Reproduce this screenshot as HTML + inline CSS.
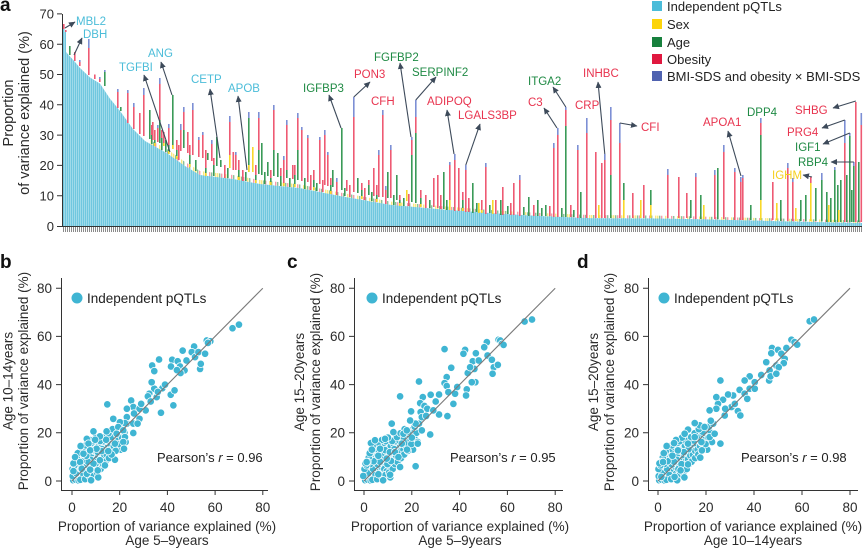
<!DOCTYPE html>
<html><head><meta charset="utf-8"><style>
html,body{margin:0;padding:0;background:#fff;}
svg{display:block;font-family:"Liberation Sans",sans-serif;}
.tk{font-size:13px;fill:#2b2b2b;}
.lb{font-size:11px;}
</style></head><body>
<svg width="865" height="549" viewBox="0 0 865 549" xmlns="http://www.w3.org/2000/svg">
<defs>
<pattern id="cy" x="63" width="2" height="10" patternUnits="userSpaceOnUse"><rect width="2" height="10" fill="#b4e3f0"/><rect width="1.3" height="10" fill="#6fc7df"/></pattern>
<pattern id="hat" x="63" width="2" height="6" patternUnits="userSpaceOnUse"><rect width="1" height="6" fill="#8a8a8a"/></pattern>
<pattern id="nz" x="63" width="22" height="10" patternUnits="userSpaceOnUse">
<rect x="0" width="1.4" height="10" fill="#f8d82a"/><rect x="2" width="1.4" height="10" fill="#3a9a58"/><rect x="4" width="1.4" height="10" fill="#ee5a73"/><rect x="8" width="1.4" height="10" fill="#f8d82a"/><rect x="10" width="1.4" height="10" fill="#3a9a58"/><rect x="14" width="1.4" height="10" fill="#ee5a73"/><rect x="16" width="1.4" height="10" fill="#3a9a58"/><rect x="20" width="1.4" height="10" fill="#f8d82a"/>
</pattern>
<marker id="ar" markerUnits="userSpaceOnUse" markerWidth="7" markerHeight="7" refX="6" refY="3.5" orient="auto"><path d="M0,0.5 L6.5,3.5 L0,6.5 z" fill="#3d4a5a"/></marker>
<g id="cl">
<circle cx="0.5" cy="0.3" r="1.55"/><circle cx="1" cy="1.5" r="1.55"/><circle cx="1.5" cy="0.5" r="1.55"/><circle cx="2" cy="2.5" r="1.55"/><circle cx="0.8" cy="3" r="1.55"/><circle cx="2.5" cy="1" r="1.55"/><circle cx="3" cy="3.5" r="1.55"/><circle cx="3.5" cy="2" r="1.55"/><circle cx="1.2" cy="4.5" r="1.55"/><circle cx="4" cy="4" r="1.55"/><circle cx="4.5" cy="1.5" r="1.55"/><circle cx="2.2" cy="5.5" r="1.55"/><circle cx="5" cy="3" r="1.55"/><circle cx="5.5" cy="5.5" r="1.55"/><circle cx="3.3" cy="6.5" r="1.55"/><circle cx="6" cy="2" r="1.55"/><circle cx="6.5" cy="4.5" r="1.55"/><circle cx="4.2" cy="7.5" r="1.55"/><circle cx="7" cy="6" r="1.55"/><circle cx="7.5" cy="3" r="1.55"/><circle cx="5.3" cy="8.5" r="1.55"/><circle cx="8" cy="7.5" r="1.55"/><circle cx="8.5" cy="5" r="1.55"/><circle cx="6.2" cy="9.5" r="1.55"/><circle cx="9" cy="8.5" r="1.55"/><circle cx="9.5" cy="4" r="1.55"/><circle cx="7.2" cy="10.5" r="1.55"/><circle cx="10" cy="9.5" r="1.55"/><circle cx="10.5" cy="6.5" r="1.55"/><circle cx="8.3" cy="11.5" r="1.55"/><circle cx="11" cy="10.5" r="1.55"/><circle cx="11.5" cy="8" r="1.55"/><circle cx="9.2" cy="12.5" r="1.55"/><circle cx="12" cy="11.5" r="1.55"/><circle cx="12.5" cy="9" r="1.55"/><circle cx="10.3" cy="13.5" r="1.55"/><circle cx="13" cy="12" r="1.55"/><circle cx="13.5" cy="10.5" r="1.55"/><circle cx="11.2" cy="14.5" r="1.55"/><circle cx="14" cy="13.5" r="1.55"/><circle cx="14.5" cy="11" r="1.55"/><circle cx="12.3" cy="15.5" r="1.55"/><circle cx="15" cy="14" r="1.55"/><circle cx="15.5" cy="12.5" r="1.55"/><circle cx="13.2" cy="16.5" r="1.55"/><circle cx="16" cy="15.5" r="1.55"/><circle cx="16.5" cy="13" r="1.55"/><circle cx="17" cy="17" r="1.55"/><circle cx="17.5" cy="14.5" r="1.55"/><circle cx="18" cy="16" r="1.55"/><circle cx="0.3" cy="2" r="1.55"/><circle cx="1.8" cy="3.2" r="1.55"/><circle cx="2.8" cy="0.2" r="1.55"/><circle cx="3.8" cy="5" r="1.55"/><circle cx="4.8" cy="2.5" r="1.55"/><circle cx="5.8" cy="6.8" r="1.55"/><circle cx="6.8" cy="1" r="1.55"/><circle cx="7.8" cy="8.8" r="1.55"/><circle cx="0.2" cy="5" r="1.55"/><circle cx="2.6" cy="7" r="1.55"/><circle cx="1" cy="6.5" r="1.55"/><circle cx="3" cy="9" r="1.55"/><circle cx="4.4" cy="10" r="1.55"/><circle cx="5" cy="11.6" r="1.55"/><circle cx="6" cy="12.8" r="1.55"/><circle cx="7" cy="14" r="1.55"/><circle cx="8" cy="15.5" r="1.55"/><circle cx="9" cy="16.5" r="1.55"/><circle cx="3.5" cy="0.5" r="1.55"/><circle cx="5.5" cy="0.8" r="1.55"/><circle cx="7.5" cy="1.8" r="1.55"/><circle cx="9" cy="2.5" r="1.55"/><circle cx="10.5" cy="3.5" r="1.55"/><circle cx="12" cy="5" r="1.55"/><circle cx="13" cy="7" r="1.55"/><circle cx="14" cy="8" r="1.55"/><circle cx="15.5" cy="9.5" r="1.55"/><circle cx="11" cy="1.5" r="1.55"/><circle cx="9.8" cy="7" r="1.55"/><circle cx="12.7" cy="13.2" r="1.55"/><circle cx="6.7" cy="8" r="1.55"/><circle cx="4" cy="8.2" r="1.55"/><circle cx="2" cy="9.8" r="1.55"/><circle cx="1.5" cy="8" r="1.55"/><circle cx="8.8" cy="12.8" r="1.55"/><circle cx="10.8" cy="12" r="1.55"/><circle cx="14.8" cy="16.8" r="1.55"/><circle cx="16.3" cy="18.3" r="1.55"/><circle cx="19" cy="19" r="1.55"/><circle cx="19.5" cy="17" r="1.55"/><circle cx="20" cy="21" r="1.55"/><circle cx="18.5" cy="20.5" r="1.55"/><circle cx="21" cy="18" r="1.55"/><circle cx="11.8" cy="16.6" r="1.55"/><circle cx="13.8" cy="18.2" r="1.55"/><circle cx="15.3" cy="19.8" r="1.55"/><circle cx="17" cy="21.5" r="1.55"/><circle cx="10" cy="18" r="1.55"/><circle cx="7.5" cy="17" r="1.55"/><circle cx="0.6" cy="7.3" r="1.55"/><circle cx="3.2" cy="12.3" r="1.55"/><circle cx="5.8" cy="14.8" r="1.55"/><circle cx="22" cy="20" r="1.55"/><circle cx="21.2" cy="22.5" r="1.55"/><circle cx="23" cy="23.8" r="1.55"/><circle cx="20.5" cy="13" r="1.55"/><circle cx="22.5" cy="16.2" r="1.55"/><circle cx="8" cy="0.3" r="1.55"/><circle cx="6" cy="10.5" r="1.55"/><circle cx="16.8" cy="11" r="1.55"/><circle cx="18.3" cy="12.5" r="1.55"/><circle cx="19.8" cy="15.3" r="1.55"/><circle cx="3.6" cy="14.5" r="1.55"/><circle cx="2.4" cy="11.5" r="1.55"/>
</g>
</defs>
<rect width="865" height="549" fill="#fff"/>

<!-- ===== Panel a ===== -->
<text x="0" y="11" font-size="19" font-weight="bold" fill="#111">a</text>
<text class="tk" transform="translate(13,113) rotate(-90)" text-anchor="middle" style="font-size:14.5px">Proportion</text>
<text class="tk" transform="translate(29,113) rotate(-90)" text-anchor="middle" style="font-size:14.5px">of variance explained (%)</text>

<path d="M63,226 L63,29 L64.5,29 L64.5,32 L66,32 L66,52 L75,62 L80,68 L90,77.5 L100,83.6 L110,98.7 L115,104.8 L120,111 L133,129 L145,141 L167,153.3 L185,166 L200,175 L233,179 L260,184 L300,188.1 L340,196 L390,204.8 L440,209.3 L490,213 L540,216 L590,218.1 L650,218.4 L700,219.3 L780,221.2 L862,223 L862,226 Z" fill="url(#cy)"/>
<path d="M150,140 L167,149 L185,162 L200,171 L233,175 L260,180 L300,184.5 L340,192.5 L390,201.5 L440,206 L490,210 L540,213 L590,215 L650,215.5 L700,216.5 L780,218.5 L862,220.5 L862,223 L780,221.2 L700,219.3 L650,218.4 L590,218.1 L540,216 L490,213 L440,209.3 L390,204.8 L340,196 L300,188.1 L260,184 L233,179 L200,175 L185,166 L167,153.3 L150,144 Z" fill="url(#nz)" opacity="0.6"/>

<path fill="#3a9a58" d="M69 46h1.6V55h-1.6zM104 72h1.6V86h-1.6zM120 107h1.6V111h-1.6zM149 110h1.6V139h-1.6zM159 120h1.6V143h-1.6zM172 95h1.6V149h-1.6zM183 130h1.6V148h-1.6zM207 153h1.6V160h-1.6zM216 137h1.6V166h-1.6zM220 160h1.6V167h-1.6zM248 118h1.6V172h-1.6zM258 150h1.6V174h-1.6zM261 143h1.6V175h-1.6zM267 162h1.6V176h-1.6zM273 150h1.6V176h-1.6zM277 153h1.6V177h-1.6zM286 170h1.6V178h-1.6zM297 150h1.6V180h-1.6zM332 170h1.6V187h-1.6zM341 128h1.6V190h-1.6zM357 178h1.6V193h-1.6zM368 185h1.6V195h-1.6zM387 172h1.6V198h-1.6zM396 175h1.6V200h-1.6zM411 155h1.6V202h-1.6zM415 133h1.6V203h-1.6zM443 172h1.6V209h-1.6zM472 183h1.6V213h-1.6zM528 197h1.6V216h-1.6zM537 200h1.6V216h-1.6zM565 126h1.6V217h-1.6zM580 192h1.6V218h-1.6zM610 175h1.6V218h-1.6zM623 183h1.6V200h-1.6zM650 190h1.6V205h-1.6zM717 168h1.6V219h-1.6zM760 135h1.6V200h-1.6zM815 188h1.6V221h-1.6zM821 180h1.6V221h-1.6zM834 170h1.6V222h-1.6zM840 180h1.6V222h-1.6zM849 136h1.6V222h-1.6zM853 166h1.6V222h-1.6zM858 162h1.6V222h-1.6zM800 200h1.6V221h-1.6zM805 195h1.6V221h-1.6zM826 192h1.6V222h-1.6zM830 198h1.6V222h-1.6zM837 185h1.6V222h-1.6zM846 175h1.6V222h-1.6zM851 190h1.6V222h-1.6zM500 200h1.6V215h-1.6zM545 205h1.6V216h-1.6zM690 200h1.6V218h-1.6zM700 195h1.6V219h-1.6zM750 205h1.6V220h-1.6zM780 200h1.6V221h-1.6z
M151 135h1.6V144h-1.6zM154 140h1.6V146h-1.6zM161 138h1.6V150h-1.6zM165 140h1.6V152h-1.6zM168 145h1.6V154h-1.6zM176 150h1.6V159h-1.6zM189 155h1.6V167h-1.6zM195 160h1.6V171h-1.6zM205 168h1.6V176h-1.6zM213 165h1.6V176h-1.6zM227 168h1.6V178h-1.6zM238 170h1.6V180h-1.6zM245 172h1.6V181h-1.6zM255 175h1.6V183h-1.6zM264 172h1.6V184h-1.6zM270 178h1.6V185h-1.6zM280 176h1.6V186h-1.6zM289 178h1.6V187h-1.6zM294 175h1.6V187h-1.6zM304 178h1.6V189h-1.6zM313 180h1.6V190h-1.6zM316 183h1.6V191h-1.6zM330 185h1.6V194h-1.6zM344 188h1.6V196h-1.6zM361 190h1.6V199h-1.6zM371 192h1.6V201h-1.6zM376 195h1.6V202h-1.6zM393 195h1.6V205h-1.6zM399 200h1.6V206h-1.6zM403 198h1.6V206h-1.6zM420 198h1.6V207h-1.6zM429 200h1.6V208h-1.6zM446 200h1.6V210h-1.6zM462 200h1.6V211h-1.6zM476 203h1.6V212h-1.6zM489 205h1.6V213h-1.6zM507 206h1.6V214h-1.6zM523 207h1.6V215h-1.6zM541 208h1.6V216h-1.6zM561 208h1.6V217h-1.6zM573 210h1.6V217h-1.6z"/>
<path fill="#ee5a73" d="M63 24h1.6V29h-1.6zM65 30h1.6V32h-1.6zM74 52h1.6V61h-1.6zM79 62h1.6V66h-1.6zM88 48h1.6V75h-1.6zM94 74.5h1.6V79h-1.6zM99 79h1.6V82h-1.6zM117 92h1.6V108h-1.6zM127 93h1.6V123h-1.6zM133 107h1.6V129h-1.6zM139 113h1.6V134h-1.6zM143 95h1.6V136h-1.6zM152 122h1.6V140h-1.6zM157 128h1.6V142h-1.6zM159 84h1.6V120h-1.6zM163 132h1.6V143h-1.6zM180 130h1.6V151h-1.6zM183 112h1.6V130h-1.6zM187 132h1.6V153h-1.6zM192 110h1.6V155h-1.6zM198 140h1.6V157h-1.6zM202 135h1.6V158h-1.6zM211 144h1.6V161h-1.6zM229 122h1.6V155h-1.6zM232.5 152h1.6V170h-1.6zM235 155h1.6V170h-1.6zM258 118h1.6V150h-1.6zM273 110h1.6V150h-1.6zM286 125h1.6V170h-1.6zM292 165h1.6V179h-1.6zM297 118h1.6V150h-1.6zM301 130h1.6V181h-1.6zM307 138h1.6V182h-1.6zM319 140h1.6V184h-1.6zM324 135h1.6V185h-1.6zM327 155h1.6V186h-1.6zM346 180h1.6V191h-1.6zM353 117h1.6V192h-1.6zM368 180h1.6V185h-1.6zM373 168h1.6V196h-1.6zM378 155h1.6V197h-1.6zM382 115h1.6V197h-1.6zM390 150h1.6V198h-1.6zM411 140h1.6V155h-1.6zM415 117h1.6V133h-1.6zM433 178h1.6V207h-1.6zM437 175h1.6V208h-1.6zM449 165h1.6V200h-1.6zM454 160h1.6V211h-1.6zM458 168h1.6V211h-1.6zM465 170h1.6V212h-1.6zM485 167h1.6V214h-1.6zM502 187h1.6V215h-1.6zM513 183h1.6V215h-1.6zM519 180h1.6V216h-1.6zM553 148h1.6V217h-1.6zM557 135h1.6V217h-1.6zM565 110h1.6V126h-1.6zM577 150h1.6V218h-1.6zM586 133h1.6V218h-1.6zM595 152h1.6V218h-1.6zM601 163h1.6V218h-1.6zM604 160h1.6V218h-1.6zM610 120h1.6V175h-1.6zM619 143h1.6V218h-1.6zM632 193h1.6V218h-1.6zM643 185h1.6V218h-1.6zM667 175h1.6V218h-1.6zM678 177h1.6V218h-1.6zM686 193h1.6V218h-1.6zM695 177h1.6V219h-1.6zM714 175h1.6V219h-1.6zM723 152h1.6V219h-1.6zM734 172h1.6V220h-1.6zM740 182h1.6V220h-1.6zM742 178h1.6V220h-1.6zM760 123h1.6V135h-1.6zM772 182h1.6V220h-1.6zM787 168h1.6V221h-1.6zM792 182h1.6V221h-1.6zM810 177h1.6V183h-1.6zM844 143h1.6V222h-1.6zM855 102h1.6V222h-1.6zM860.5 125h1.6V222h-1.6z
M151 125h1.6V135h-1.6zM154 130h1.6V140h-1.6zM161 130h1.6V138h-1.6zM168 128h1.6V145h-1.6zM176 140h1.6V150h-1.6zM178 145h1.6V160h-1.6zM189 145h1.6V155h-1.6zM205 150h1.6V168h-1.6zM213 158h1.6V165h-1.6zM224 165h1.6V178h-1.6zM238 160h1.6V170h-1.6zM242 170h1.6V181h-1.6zM255 165h1.6V175h-1.6zM270 170h1.6V178h-1.6zM280 168h1.6V176h-1.6zM283 160h1.6V186h-1.6zM294 165h1.6V175h-1.6zM310 175h1.6V190h-1.6zM313 170h1.6V180h-1.6zM322 180h1.6V192h-1.6zM330 178h1.6V185h-1.6zM336 182h1.6V195h-1.6zM349 185h1.6V197h-1.6zM361 183h1.6V190h-1.6zM364 188h1.6V200h-1.6zM376 185h1.6V195h-1.6zM385 190h1.6V204h-1.6zM399 195h1.6V200h-1.6zM408 194h1.6V206h-1.6zM420 190h1.6V198h-1.6zM425 195h1.6V208h-1.6zM440 195h1.6V209h-1.6zM462 192h1.6V200h-1.6zM468 198h1.6V212h-1.6zM481 200h1.6V213h-1.6zM495 200h1.6V214h-1.6zM510 203h1.6V215h-1.6zM533 205h1.6V216h-1.6zM549 206h1.6V216h-1.6zM570 205h1.6V217h-1.6z"/>
<path fill="#7d8fd4" d="M79 60h1.6V62h-1.6zM88 39h1.6V48h-1.6zM99 77h1.6V79h-1.6zM104 70h1.6V72h-1.6zM117 89h1.6V92h-1.6zM127 90h1.6V93h-1.6zM133 103h1.6V107h-1.6zM143 88h1.6V95h-1.6zM157 125h1.6V128h-1.6zM159 78h1.6V84h-1.6zM180 124h1.6V130h-1.6zM183 107h1.6V112h-1.6zM192 103h1.6V110h-1.6zM198 137h1.6V140h-1.6zM202 132h1.6V135h-1.6zM211 140h1.6V144h-1.6zM229 116h1.6V122h-1.6zM235 152h1.6V155h-1.6zM248 112h1.6V118h-1.6zM258 112h1.6V118h-1.6zM273 105h1.6V110h-1.6zM286 120h1.6V125h-1.6zM297 113h1.6V118h-1.6zM301 127h1.6V130h-1.6zM307 135h1.6V138h-1.6zM319 137h1.6V140h-1.6zM324 130h1.6V135h-1.6zM327 152h1.6V155h-1.6zM353 97h1.6V117h-1.6zM378 150h1.6V155h-1.6zM382 110h1.6V115h-1.6zM390 145h1.6V150h-1.6zM411 137h1.6V140h-1.6zM415 100h1.6V117h-1.6zM449 162h1.6V165h-1.6zM454 154h1.6V160h-1.6zM465 165h1.6V170h-1.6zM485 163h1.6V167h-1.6zM519 175h1.6V180h-1.6zM553 143h1.6V148h-1.6zM557 128h1.6V135h-1.6zM565 107h1.6V110h-1.6zM577 145h1.6V150h-1.6zM586 118h1.6V133h-1.6zM604 154h1.6V160h-1.6zM610 107h1.6V120h-1.6zM619 123h1.6V143h-1.6zM667 169h1.6V175h-1.6zM695 173h1.6V177h-1.6zM714 170h1.6V175h-1.6zM723 145h1.6V152h-1.6zM734 168h1.6V172h-1.6zM740 177h1.6V182h-1.6zM742 175h1.6V178h-1.6zM760 118h1.6V123h-1.6zM787 163h1.6V168h-1.6zM792 178h1.6V182h-1.6zM821 173h1.6V180h-1.6zM834 167h1.6V170h-1.6zM844 120h1.6V143h-1.6zM849 133h1.6V136h-1.6zM853 162h1.6V166h-1.6zM860.5 113h1.6V125h-1.6zM168 124h1.6V128h-1.6zM283 156h1.6V160h-1.6zM336 178h1.6V182h-1.6zM385 186h1.6V190h-1.6z"/>
<path fill="#f8d82a" d="M163 143h1.6V146h-1.6zM172 145h1.6V149h-1.6zM229 155h1.6V168h-1.6zM248 165h1.6V172h-1.6zM252 147h1.6V172h-1.6zM449 200h1.6V210h-1.6zM623 200h1.6V218h-1.6zM650 205h1.6V218h-1.6zM760 200h1.6V220h-1.6zM810 183h1.6V221h-1.6zM598 205h1.6V218h-1.6zM640 200h1.6V218h-1.6zM703 205h1.6V219h-1.6zM776 203h1.6V220h-1.6zM795 208h1.6V221h-1.6zM828 205h1.6V222h-1.6zM838 210h1.6V222h-1.6zM478 203h1.6V213h-1.6zM406 190h1.6V201h-1.6zM492 200h1.6V214h-1.6z
M154 143h1.6V146h-1.6zM168 151h1.6V154h-1.6zM176 156h1.6V159h-1.6zM189 164h1.6V167h-1.6zM205 173h1.6V176h-1.6zM238 177h1.6V180h-1.6zM255 180h1.6V183h-1.6zM270 182h1.6V185h-1.6zM283 183h1.6V186h-1.6zM294 184h1.6V187h-1.6zM313 187h1.6V190h-1.6zM330 191h1.6V194h-1.6zM361 196h1.6V199h-1.6zM376 199h1.6V202h-1.6zM399 203h1.6V206h-1.6zM420 204h1.6V207h-1.6zM462 208h1.6V211h-1.6zM481 210h1.6V213h-1.6z"/>

<!-- axis a -->
<rect x="63" y="227" width="799" height="5" fill="url(#hat)"/>
<path d="M62.5 14V226.5H862" stroke="#333" stroke-width="1" fill="none"/>
<path d="M57 226.5h5M57 195.7h5M57 165.4h5M57 135.1h5M57 104.8h5M57 74.5h5M57 44.2h5M57 13.9h5" stroke="#333" stroke-width="1"/>
<g class="tk" text-anchor="end">
<text x="54" y="231">0</text><text x="54" y="200.5">10</text><text x="54" y="170">20</text><text x="54" y="140">30</text><text x="54" y="109.5">40</text><text x="54" y="79">50</text><text x="54" y="49">60</text><text x="54" y="18.5">70</text>
</g>

<!-- arrows -->
<g stroke="#3d4a5a" stroke-width="1.1" fill="none" marker-end="url(#ar)">
<path d="M65 28L75 22"/><path d="M74 55L82 38"/><path d="M172 95L161 62"/><path d="M170 152L144 75"/><path d="M220 158L210 89"/><path d="M247 170L238 96"/>
<path d="M341 128L329 95"/><path d="M353.8 97L370 82"/><path d="M411 137L400 63"/><path d="M415.8 100L436 77"/><path d="M454 154L447 110"/><path d="M465.8 165L480 124"/>
<path d="M557 128L544 108"/><path d="M565.8 107L553 87"/><path d="M604.8 154L598 82"/><path d="M619.8 123L637 126"/><path d="M741 176L728 131"/><path d="M812 177L803 175"/>
<path d="M855.8 101L833 108"/><path d="M844.8 120L822 128"/><path d="M849.8 133L823 144"/><path d="M853.8 162L831 162"/>
</g>

<!-- labels -->
<g class="lb" style="font-size:11.5px">
<g fill="#4cbdd9"><text x="76" y="25">MBL2</text><text x="83" y="38">DBH</text><text x="148" y="57">ANG</text><text x="119" y="71">TGFBI</text><text x="191" y="83">CETP</text><text x="228" y="92">APOB</text></g>
<g fill="#1f8a44"><text x="303" y="92">IGFBP3</text><text x="374" y="61">FGFBP2</text><text x="412" y="76">SERPINF2</text><text x="528" y="85">ITGA2</text><text x="747" y="116">DPP4</text><text x="795" y="151">IGF1</text><text x="798" y="166">RBP4</text></g>
<g fill="#e8344f"><text x="354" y="78">PON3</text><text x="371" y="105">CFH</text><text x="427" y="105">ADIPOQ</text><text x="458" y="119">LGALS3BP</text><text x="528" y="106">C3</text><text x="575" y="109">CRP</text><text x="583" y="77">INHBC</text><text x="641" y="131">CFI</text><text x="703" y="126">APOA1</text><text x="795" y="114">SHBG</text><text x="787" y="136">PRG4</text></g>
<g fill="#f5cf1e"><text x="772" y="179">IGHM</text></g>
</g>

<!-- legend -->
<rect x="652" y="1" width="10" height="10" fill="#4bbcd9"/>
<rect x="652" y="19" width="10" height="10" fill="#fcd40a"/>
<rect x="652" y="37" width="10" height="10" fill="#17803d"/>
<rect x="652" y="54" width="10" height="10" fill="#e0183f"/>
<rect x="652" y="71" width="10" height="10" fill="#4f62b0"/>
<g style="font-size:13px" fill="#222">
<text x="667" y="11">Independent pQTLs</text>
<text x="667" y="29">Sex</text>
<text x="667" y="47">Age</text>
<text x="667" y="64">Obesity</text>
<text x="667" y="81">BMI-SDS and obesity × BMI-SDS</text>
</g>

<!-- ===== Panel b ===== -->
<text x="0" y="268" font-size="19" font-weight="bold" fill="#111">b</text>
<g fill="#3fb5d3" stroke="#fff" stroke-width="0.3" transform="translate(72,481) scale(2.385,-2.41)">
<use href="#cl"/>
<circle cx="67.3" cy="63.4" r="1.55"/><circle cx="70" cy="64.9" r="1.55"/><circle cx="56.5" cy="58.3" r="1.55"/><circle cx="58" cy="58" r="1.55"/><circle cx="57" cy="57.3" r="1.55"/><circle cx="46.4" cy="54.1" r="1.55"/><circle cx="51.2" cy="55.8" r="1.55"/><circle cx="50.2" cy="53.5" r="1.55"/><circle cx="51.6" cy="51.4" r="1.55"/><circle cx="53" cy="53.5" r="1.55"/><circle cx="55.8" cy="52.8" r="1.55"/><circle cx="53.7" cy="46.5" r="1.55"/><circle cx="54" cy="48.6" r="1.55"/><circle cx="36.5" cy="50.4" r="1.55"/><circle cx="33.6" cy="47.9" r="1.55"/><circle cx="34.5" cy="45.6" r="1.55"/><circle cx="42" cy="50.3" r="1.55"/><circle cx="44.3" cy="49.7" r="1.55"/><circle cx="41.5" cy="47.5" r="1.55"/><circle cx="45.3" cy="47.5" r="1.55"/><circle cx="47.2" cy="45.9" r="1.55"/><circle cx="45.5" cy="44.8" r="1.55"/><circle cx="37.9" cy="38.5" r="1.55"/><circle cx="34.5" cy="38.3" r="1.55"/><circle cx="33.4" cy="41" r="1.55"/><circle cx="32.4" cy="36.2" r="1.55"/><circle cx="31.8" cy="35.1" r="1.55"/><circle cx="35.5" cy="34.8" r="1.55"/><circle cx="41.4" cy="35.8" r="1.55"/><circle cx="43" cy="37.6" r="1.55"/><circle cx="42.5" cy="31.4" r="1.55"/><circle cx="37.3" cy="28.3" r="1.55"/><circle cx="30.9" cy="29.3" r="1.55"/><circle cx="14.8" cy="31.8" r="1.55"/><circle cx="24.8" cy="33.4" r="1.55"/><circle cx="25.7" cy="30.7" r="1.55"/><circle cx="28.3" cy="30" r="1.55"/><circle cx="23" cy="30" r="1.55"/><circle cx="23" cy="26.5" r="1.55"/><circle cx="28.3" cy="25.8" r="1.55"/><circle cx="25.7" cy="23.8" r="1.55"/><circle cx="27.5" cy="23.8" r="1.55"/><circle cx="25.7" cy="19.9" r="1.55"/><circle cx="22.2" cy="24" r="1.55"/><circle cx="20.1" cy="24.4" r="1.55"/><circle cx="17.3" cy="25.8" r="1.55"/><circle cx="19.4" cy="22.4" r="1.55"/><circle cx="21.5" cy="21" r="1.55"/><circle cx="22.2" cy="18.2" r="1.55"/><circle cx="21.5" cy="16.2" r="1.55"/><circle cx="21.8" cy="13.4" r="1.55"/><circle cx="18" cy="15.5" r="1.55"/><circle cx="18" cy="8.8" r="1.55"/><circle cx="16.6" cy="11" r="1.55"/><circle cx="18.7" cy="19.6" r="1.55"/><circle cx="14.5" cy="20.6" r="1.55"/><circle cx="14.3" cy="17.1" r="1.55"/><circle cx="11.7" cy="18.5" r="1.55"/><circle cx="9" cy="20.6" r="1.55"/><circle cx="9.7" cy="17.1" r="1.55"/><circle cx="6.2" cy="17.5" r="1.55"/><circle cx="6.9" cy="15.5" r="1.55"/><circle cx="4.8" cy="11.3" r="1.55"/><circle cx="1.3" cy="9.9" r="1.55"/><circle cx="3.4" cy="7.9" r="1.55"/><circle cx="10.8" cy="4.4" r="1.55"/><circle cx="6.2" cy="3" r="1.55"/><circle cx="0.6" cy="4.1" r="1.55"/><circle cx="12.4" cy="12.4" r="1.55"/><circle cx="10.3" cy="13.4" r="1.55"/><circle cx="7.6" cy="12.7" r="1.55"/><circle cx="15.2" cy="12.4" r="1.55"/><circle cx="11.7" cy="8.6" r="1.55"/><circle cx="9" cy="7.2" r="1.55"/><circle cx="13.8" cy="6.5" r="1.55"/><circle cx="7.6" cy="4.7" r="1.55"/><circle cx="4.1" cy="5.1" r="1.55"/><circle cx="26" cy="28" r="1.55"/><circle cx="29" cy="32" r="1.55"/><circle cx="33" cy="33" r="1.55"/><circle cx="36" cy="37" r="1.55"/><circle cx="39" cy="40" r="1.55"/><circle cx="48" cy="50" r="1.55"/><circle cx="44" cy="46" r="1.55"/>
<line x1="0" y1="0" x2="80" y2="80" stroke="#7a7a7a" stroke-width="1.1" vector-effect="non-scaling-stroke"/>
</g>
<path d="M61.5 278V490.5H268" stroke="#333" fill="none"/>
<path d="M56 481h5M56 432.8h5M56 384.6h5M56 336.4h5M56 288.2h5M72 490v5M119.7 490v5M167.4 490v5M215.1 490v5M262.8 490v5" stroke="#333"/>
<g class="tk" text-anchor="end" style="font-size:13.5px"><text x="52" y="486">0</text><text x="52" y="437.5">20</text><text x="52" y="389.5">40</text><text x="52" y="341">60</text><text x="52" y="293">80</text></g>
<g class="tk" text-anchor="middle" style="font-size:13.5px"><text x="72" y="512">0</text><text x="119.7" y="512">20</text><text x="167.4" y="512">40</text><text x="215.1" y="512">60</text><text x="262.8" y="512">80</text></g>
<circle cx="77" cy="298" r="5.5" fill="#3fb5d3"/>
<text x="87" y="303" style="font-size:13.5px" fill="#222">Independent pQTLs</text>
<text x="157" y="462" style="font-size:13px" fill="#222">Pearson’s <tspan font-style="italic">r</tspan> = 0.96</text>
<g class="tk" style="font-size:13.5px" fill="#222" text-anchor="middle">
<text x="167" y="531">Proportion of variance explained (%)</text><text x="167" y="545">Age 5–9years</text>
<text transform="translate(12.5,381) rotate(-90)">Age 10–14years</text>
<text transform="translate(28,381) rotate(-90)">Proportion of variance explained (%)</text>
</g>

<!-- ===== Panel c ===== -->
<text x="287" y="268" font-size="19" font-weight="bold" fill="#111">c</text>
<g fill="#3fb5d3" stroke="#fff" stroke-width="0.3" transform="translate(364,481) scale(2.39,-2.41)">
<use href="#cl"/>
<circle cx="67.2" cy="66.2" r="1.55"/><circle cx="70.3" cy="67" r="1.55"/><circle cx="56.3" cy="58.6" r="1.55"/><circle cx="57" cy="58.3" r="1.55"/><circle cx="57.7" cy="56.9" r="1.55"/><circle cx="58.4" cy="56.5" r="1.55"/><circle cx="51.4" cy="57.6" r="1.55"/><circle cx="50.3" cy="55.5" r="1.55"/><circle cx="51.7" cy="52.1" r="1.55"/><circle cx="53.5" cy="50.3" r="1.55"/><circle cx="54.3" cy="47.2" r="1.55"/><circle cx="56" cy="48.2" r="1.55"/><circle cx="53.8" cy="44.5" r="1.55"/><circle cx="33.7" cy="54.7" r="1.55"/><circle cx="42.3" cy="54.4" r="1.55"/><circle cx="41.6" cy="52.8" r="1.55"/><circle cx="46.8" cy="53" r="1.55"/><circle cx="45.5" cy="49.7" r="1.55"/><circle cx="46.2" cy="46.5" r="1.55"/><circle cx="46.6" cy="41" r="1.55"/><circle cx="45.1" cy="41" r="1.55"/><circle cx="43.4" cy="44.8" r="1.55"/><circle cx="44.4" cy="47.2" r="1.55"/><circle cx="36.5" cy="47" r="1.55"/><circle cx="34.6" cy="43.1" r="1.55"/><circle cx="33.7" cy="40.6" r="1.55"/><circle cx="34.6" cy="39.4" r="1.55"/><circle cx="35.3" cy="36.9" r="1.55"/><circle cx="38.1" cy="36.2" r="1.55"/><circle cx="37.4" cy="32" r="1.55"/><circle cx="43" cy="38" r="1.55"/><circle cx="42.7" cy="35.5" r="1.55"/><circle cx="31.4" cy="35.9" r="1.55"/><circle cx="27.9" cy="35.8" r="1.55"/><circle cx="31.4" cy="27.6" r="1.55"/><circle cx="34.9" cy="26.9" r="1.55"/><circle cx="23" cy="41.3" r="1.55"/><circle cx="15.1" cy="35.1" r="1.55"/><circle cx="24.6" cy="34.8" r="1.55"/><circle cx="23.5" cy="32.3" r="1.55"/><circle cx="25.3" cy="31.1" r="1.55"/><circle cx="26.5" cy="30" r="1.55"/><circle cx="29" cy="29.3" r="1.55"/><circle cx="23.7" cy="28.6" r="1.55"/><circle cx="24.2" cy="26.5" r="1.55"/><circle cx="21.6" cy="23.8" r="1.55"/><circle cx="19.3" cy="25.1" r="1.55"/><circle cx="19.7" cy="28.9" r="1.55"/><circle cx="24.2" cy="21" r="1.55"/><circle cx="27.7" cy="19.3" r="1.55"/><circle cx="22.5" cy="15.5" r="1.55"/><circle cx="21.6" cy="6.1" r="1.55"/><circle cx="15.1" cy="5.8" r="1.55"/><circle cx="2.9" cy="15.7" r="1.55"/><circle cx="3.3" cy="13" r="1.55"/><circle cx="1.1" cy="7.9" r="1.55"/><circle cx="-0.3" cy="2.1" r="1.55"/><circle cx="11.3" cy="8.3" r="1.55"/><circle cx="10.9" cy="2.6" r="1.55"/><circle cx="6" cy="2.8" r="1.55"/><circle cx="11.6" cy="23.8" r="1.55"/><circle cx="12.3" cy="20.3" r="1.55"/><circle cx="16.5" cy="19.6" r="1.55"/><circle cx="17.9" cy="21" r="1.55"/><circle cx="15.8" cy="15.5" r="1.55"/><circle cx="8.8" cy="17.5" r="1.55"/><circle cx="4.6" cy="16.9" r="1.55"/><circle cx="6.7" cy="13.4" r="1.55"/><circle cx="9.5" cy="9.3" r="1.55"/><circle cx="13" cy="12" r="1.55"/><circle cx="14.4" cy="9.9" r="1.55"/><circle cx="20" cy="18" r="1.55"/><circle cx="18" cy="13" r="1.55"/><circle cx="26" cy="27" r="1.55"/><circle cx="30" cy="33" r="1.55"/><circle cx="39" cy="39" r="1.55"/><circle cx="48" cy="50" r="1.55"/>
<line x1="0" y1="0" x2="80" y2="80" stroke="#7a7a7a" stroke-width="1.1" vector-effect="non-scaling-stroke"/>
</g>
<path d="M354.5 278V490.5H563" stroke="#333" fill="none"/>
<path d="M349 481h5M349 432.8h5M349 384.6h5M349 336.4h5M349 288.2h5M364 490v5M411.8 490v5M459.6 490v5M507.4 490v5M555.2 490v5" stroke="#333"/>
<g class="tk" text-anchor="end" style="font-size:13.5px"><text x="345" y="486">0</text><text x="345" y="437.5">20</text><text x="345" y="389.5">40</text><text x="345" y="341">60</text><text x="345" y="293">80</text></g>
<g class="tk" text-anchor="middle" style="font-size:13.5px"><text x="364" y="512">0</text><text x="411.8" y="512">20</text><text x="459.6" y="512">40</text><text x="507.4" y="512">60</text><text x="555.2" y="512">80</text></g>
<circle cx="372" cy="298" r="5.5" fill="#3fb5d3"/>
<text x="382" y="303" style="font-size:13.5px" fill="#222">Independent pQTLs</text>
<text x="450" y="462" style="font-size:13px" fill="#222">Pearson’s <tspan font-style="italic">r</tspan> = 0.95</text>
<g class="tk" style="font-size:13.5px" fill="#222" text-anchor="middle">
<text x="460" y="531">Proportion of variance explained (%)</text><text x="460" y="545">Age 5–9years</text>
<text transform="translate(304,382) rotate(-90)">Age 15–20years</text>
<text transform="translate(320,382) rotate(-90)">Proportion of variance explained (%)</text>
</g>

<!-- ===== Panel d ===== -->
<text x="577" y="268" font-size="19" font-weight="bold" fill="#111">d</text>
<g fill="#3fb5d3" stroke="#fff" stroke-width="0.3" transform="translate(658,481) scale(2.4,-2.41)">
<use href="#cl"/>
<circle cx="63.2" cy="66.3" r="1.55"/><circle cx="65" cy="67" r="1.55"/><circle cx="55.6" cy="58.6" r="1.55"/><circle cx="56.9" cy="57.6" r="1.55"/><circle cx="58" cy="56.6" r="1.55"/><circle cx="47.5" cy="55.2" r="1.55"/><circle cx="50" cy="54.4" r="1.55"/><circle cx="53.5" cy="55.2" r="1.55"/><circle cx="51.4" cy="52.8" r="1.55"/><circle cx="52.8" cy="50.7" r="1.55"/><circle cx="52.4" cy="48.9" r="1.55"/><circle cx="49.3" cy="47.9" r="1.55"/><circle cx="46.5" cy="45.9" r="1.55"/><circle cx="45.1" cy="49.3" r="1.55"/><circle cx="47.2" cy="53" r="1.55"/><circle cx="50.3" cy="47.2" r="1.55"/><circle cx="46.3" cy="41.7" r="1.55"/><circle cx="46.9" cy="43.4" r="1.55"/><circle cx="49.3" cy="44.5" r="1.55"/><circle cx="38.2" cy="43.4" r="1.55"/><circle cx="36.1" cy="41.7" r="1.55"/><circle cx="40.3" cy="41" r="1.55"/><circle cx="38.2" cy="38.3" r="1.55"/><circle cx="40.3" cy="38.3" r="1.55"/><circle cx="34" cy="37.8" r="1.55"/><circle cx="36.1" cy="36.2" r="1.55"/><circle cx="37.2" cy="34.1" r="1.55"/><circle cx="31.3" cy="35.5" r="1.55"/><circle cx="27.1" cy="33.7" r="1.55"/><circle cx="29.2" cy="35.9" r="1.55"/><circle cx="26" cy="41.7" r="1.55"/><circle cx="33.3" cy="29" r="1.55"/><circle cx="34.3" cy="27.2" r="1.55"/><circle cx="30.6" cy="30.7" r="1.55"/><circle cx="25" cy="32" r="1.55"/><circle cx="24.3" cy="30" r="1.55"/><circle cx="21.5" cy="29.3" r="1.55"/><circle cx="24.3" cy="34.8" r="1.55"/><circle cx="27.8" cy="27.2" r="1.55"/><circle cx="26" cy="15.5" r="1.55"/><circle cx="17.6" cy="9.7" r="1.55"/><circle cx="17.4" cy="23.1" r="1.55"/><circle cx="19.4" cy="22.4" r="1.55"/><circle cx="15.3" cy="24" r="1.55"/><circle cx="12.5" cy="21.3" r="1.55"/><circle cx="15.3" cy="18.2" r="1.55"/><circle cx="18.1" cy="16.2" r="1.55"/><circle cx="21.5" cy="18.2" r="1.55"/><circle cx="23.6" cy="19.6" r="1.55"/><circle cx="18.3" cy="12.7" r="1.55"/><circle cx="11.1" cy="19.6" r="1.55"/><circle cx="12.5" cy="15.5" r="1.55"/><circle cx="6.7" cy="15.7" r="1.55"/><circle cx="8.3" cy="12.7" r="1.55"/><circle cx="2.1" cy="7.9" r="1.55"/><circle cx="9.4" cy="4.4" r="1.55"/><circle cx="12.5" cy="6.9" r="1.55"/><circle cx="6.9" cy="1.7" r="1.55"/><circle cx="1.4" cy="1.7" r="1.55"/><circle cx="22" cy="25" r="1.55"/><circle cx="28" cy="30" r="1.55"/><circle cx="32" cy="32" r="1.55"/><circle cx="43" cy="44" r="1.55"/>
<line x1="0" y1="0" x2="80" y2="80" stroke="#7a7a7a" stroke-width="1.1" vector-effect="non-scaling-stroke"/>
</g>
<path d="M648.5 278V490.5H858" stroke="#333" fill="none"/>
<path d="M643 481h5M643 432.8h5M643 384.6h5M643 336.4h5M643 288.2h5M658 490v5M706 490v5M754 490v5M802 490v5M850 490v5" stroke="#333"/>
<g class="tk" text-anchor="end" style="font-size:13.5px"><text x="639" y="486">0</text><text x="639" y="437.5">20</text><text x="639" y="389.5">40</text><text x="639" y="341">60</text><text x="639" y="293">80</text></g>
<g class="tk" text-anchor="middle" style="font-size:13.5px"><text x="658" y="512">0</text><text x="706" y="512">20</text><text x="754" y="512">40</text><text x="802" y="512">60</text><text x="850" y="512">80</text></g>
<circle cx="664" cy="298" r="5.5" fill="#3fb5d3"/>
<text x="674" y="303" style="font-size:13.5px" fill="#222">Independent pQTLs</text>
<text x="741" y="462" style="font-size:13px" fill="#222">Pearson’s <tspan font-style="italic">r</tspan> = 0.98</text>
<g class="tk" style="font-size:13.5px" fill="#222" text-anchor="middle">
<text x="753" y="531">Proportion of variance explained (%)</text><text x="753" y="545">Age 10–14years</text>
<text transform="translate(598,382) rotate(-90)">Age 15–20years</text>
<text transform="translate(614,382) rotate(-90)">Proportion of variance explained (%)</text>
</g>
</svg>
</body></html>
